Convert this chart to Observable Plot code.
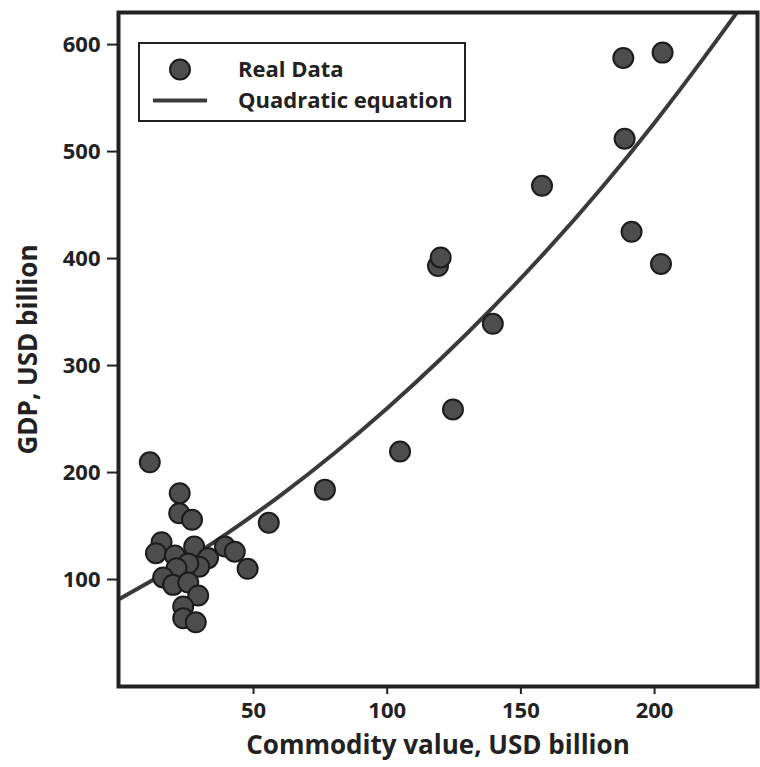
<!DOCTYPE html>
<html>
<head>
<meta charset="utf-8">
<script src="https://cdn.jsdelivr.net/npm/d3@7"></script>
<script src="https://cdn.jsdelivr.net/npm/@observablehq/plot@0.6"></script>
<style>
  html, body { margin: 0; padding: 0; background: #fff; }
  #wrap { position: relative; width: 760px; height: 767px; }
  #legend {
    position: absolute; left: 138px; top: 42px; width: 324px; height: 76px;
    border: 2.5px solid #222; background: #fff;
    font-family: "Open Sans", sans-serif; font-weight: bold; font-size: 22px; color: #222;
  }
  #legend svg { position: absolute; left: 0; top: 0; }
  #legend .t { position: absolute; left: 98px; white-space: nowrap; line-height: 1; }
</style>
</head>
<body>
<div id="wrap"></div>
<script>
// Real data
const commodity = [11.2, 22.4, 22.2, 27, 15.6, 13.5, 20.6, 27.8, 33, 39.3, 43, 47.8, 29.7, 25.6, 21.2, 16.2, 19.9, 25.6, 29.3, 23.7, 23.7, 28.4, 55.7, 76.7, 104.8, 119, 120, 124.6, 139.5, 157.9, 188.3, 188.8, 191.4, 203, 202.4];
const gdp = [209.6, 180.7, 162, 155.8, 134.9, 124.6, 122.4, 130.8, 120, 130.8, 126, 110, 112, 115, 110.6, 101.9, 95, 97.2, 85, 74.8, 63.8, 60, 153, 184, 219.6, 393, 401, 259, 339, 468, 587.5, 512, 425, 592.5, 395];

// Quadratic curve, points
const curveX = [0, 20, 40, 60, 80, 100, 120, 140, 160, 180, 200, 220, 236];
const curveY = [82, 110.7, 142.9, 178.5, 217.6, 260.1, 306.1, 355.6, 408.5, 465.5, 527, 593, 648];

const xTicks = [50, 100, 150, 200];
const yTicks = [100, 200, 300, 400, 500, 600];

const xLabel = "Commodity value, USD billion";
const yLabel = "GDP, USD billion";
const legendLabels = ["Real Data", "Quadratic equation"];

const points = commodity.map((c, i) => ({x: c, y: gdp[i]}));
const curve = curveX.map((c, i) => ({x: c, y: curveY[i]}));

const ink = "#222";

const chart = Plot.plot({
  width: 760,
  height: 767,
  marginLeft: 118,
  marginRight: 3,
  marginTop: 12,
  marginBottom: 81,
  style: {fontFamily: "'Open Sans', sans-serif", fontWeight: "bold", fontSize: "22px", color: ink, background: "#fff"},
  x: {domain: [-0.5, 238.5]},
  y: {domain: [0, 630]},
  marks: [
    Plot.line(curve, {x: "x", y: "y", stroke: "#3a3a3a", strokeWidth: 4, curve: "natural", clip: true}),
    Plot.dot(points, {x: "x", y: "y", r: 10, fill: "#4d4d4d", stroke: "#1c1c1c", strokeWidth: 2}),
    Plot.frame({stroke: ink, strokeWidth: 4}),
    Plot.axisX({ticks: xTicks, tickSize: 8, tickPadding: 8, label: null, stroke: ink, strokeWidth: 2, fontSize: 22}),
    Plot.axisY({ticks: yTicks, tickSize: 11, tickPadding: 7, label: null, stroke: ink, strokeWidth: 2, fontSize: 22}),
    Plot.text([xLabel], {text: d => d, frameAnchor: "bottom", dy: 59, lineAnchor: "middle", textAnchor: "middle", fontSize: 26, fontWeight: "bold", fill: ink}),
    Plot.text([yLabel], {text: d => d, frameAnchor: "left", dx: -90, rotate: -90, lineAnchor: "middle", textAnchor: "middle", fontSize: 26, fontWeight: "bold", fill: ink})
  ]
});

const wrap = document.getElementById("wrap");
wrap.appendChild(chart);

// Legend
const legend = document.createElement("div");
legend.id = "legend";
legend.innerHTML = `
  <svg width="324" height="76">
    <circle cx="40" cy="25.5" r="10" fill="#4d4d4d" stroke="#1c1c1c" stroke-width="2"></circle>
    <line x1="13" x2="67" y1="56.5" y2="56.5" stroke="#3a3a3a" stroke-width="4"></line>
  </svg>
  <div class="t" style="top:13px">${legendLabels[0]}</div>
  <div class="t" style="top:44px">${legendLabels[1]}</div>`;
wrap.appendChild(legend);
</script>
</body>
</html>
